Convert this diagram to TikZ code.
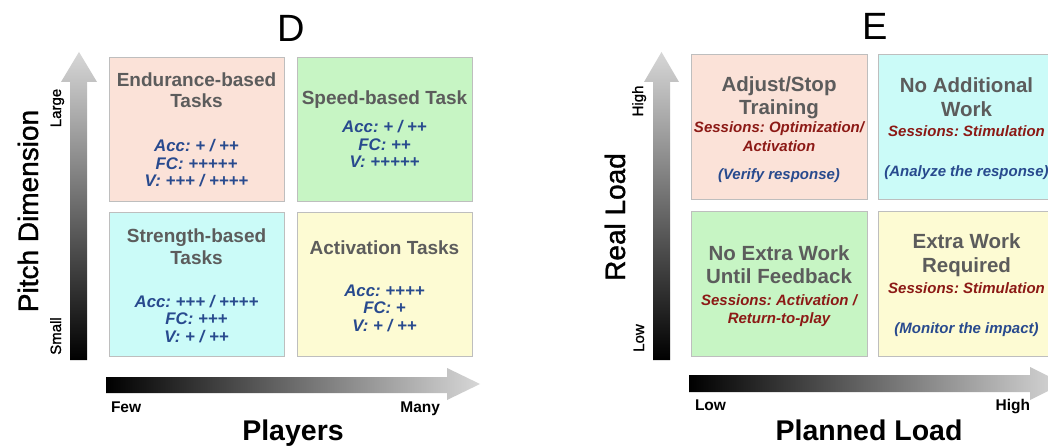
\documentclass[tikz,border=0pt]{standalone}
\usepackage{fontspec}
\setmainfont{Liberation Sans}
\newfontfamily\medfont[FakeBold=1.2]{Liberation Sans}
\frenchspacing
\definecolor{pinkbg}{RGB}{251,226,216}
\definecolor{greenbg}{RGB}{199,245,196}
\definecolor{cyanbg}{RGB}{203,251,248}
\definecolor{yellowbg}{RGB}{253,251,211}
\definecolor{boxline}{RGB}{190,190,190}
\definecolor{ttlgray}{RGB}{92,92,92}
\definecolor{metblue}{RGB}{40,74,142}
\definecolor{sesred}{RGB}{140,26,22}
\definecolor{arrowlight}{RGB}{215,215,215}
\begin{document}
\begin{tikzpicture}[x=1pt,y=-1pt,
  every node/.style={inner sep=0pt, outer sep=0pt},
  qbox/.style={draw=boxline, line width=0.8pt, minimum width=175pt, minimum height=144pt},
  ttl/.style={text=ttlgray, anchor=base, font=\fontsize{19}{22}\selectfont\bfseries},
  ttlE/.style={text=ttlgray, anchor=base, font=\fontsize{20.5}{24}\selectfont\bfseries},
  met/.style={text=metblue, anchor=base, font=\fontsize{16.8}{19}\selectfont\bfseries\itshape},
  ses/.style={text=sesred, anchor=base, font=\fontsize{15}{18}\selectfont\bfseries\itshape},
  ver/.style={text=metblue, anchor=base, font=\fontsize{15}{18}\selectfont\bfseries\itshape},
  ptitle/.style={anchor=base, font=\fontsize{38}{44}\selectfont},
  axtitle/.style={anchor=base, rotate=90, font=\medfont\fontsize{28}{32}\selectfont},
  axtitleh/.style={anchor=base, font=\fontsize{28.5}{32}\selectfont\bfseries},
  tickv/.style={anchor=base, rotate=90, font=\medfont\fontsize{15}{18}\selectfont},
  tickh/.style={font=\fontsize{15.5}{18}\selectfont\bfseries},
  axshade/.style={draw=none}
]
\useasboundingbox (0,0) rectangle (1048,446);
\clip (0,0) rectangle (1048,446);
\fill[white] (0,0) rectangle (1048,446);

% ===================== Panel D =====================
\node[ptitle] (dtitle) at (291,42) {D};

\shade[axshade, bottom color=black, top color=arrowlight]
  (70,360) -- (70,82) -- (61,82) -- (79,52) -- (97,82) -- (87,82) -- (87,360) -- cycle;
\shade[axshade, left color=black, right color=arrowlight]
  (106,377) -- (447,377) -- (447,368) -- (480,384) -- (447,400) -- (447,393) -- (106,393) -- cycle;

\node[tickv] (dlarge) at (61,108) {Large};
\node[tickv] (dsmall) at (61,336) {Small};
\node[axtitle] (dpitch) at (38,211) {Pitch Dimension};
\node[tickh, anchor=base west] (dfew) at (111,412) {Few};
\node[tickh, anchor=base east] (dmany) at (440,412) {Many};
\node[axtitleh] (dplayers) at (293,440) {Players};

\node[qbox, fill=pinkbg] (dTL) at (196.5,129) {};
\node[qbox, fill=greenbg] (dTR) at (384.5,129) {};
\node[qbox, fill=cyanbg] (dBL) at (196.5,284) {};
\node[qbox, fill=yellowbg] (dBR) at (384.5,284) {};

\node[ttl] (dA1) at (196.5,87) {Endurance-based};
\node[ttl] (dA2) at (196.5,108) {Tasks};
\node[met] (dA3) at (196.5,152) {Acc: + / ++};
\node[met] (dA4) at (196.5,169.5) {FC: +++++};
\node[met] (dA5) at (196.5,187) {V: +++ / ++++};

\node[ttl] (dB1) at (384.5,105) {Speed-based Task};
\node[met] (dB2) at (384.5,133) {Acc: + / ++};
\node[met] (dB3) at (384.5,150.5) {FC: ++};
\node[met] (dB4) at (384.5,168) {V: +++++};

\node[ttl] (dC1) at (196.5,242) {Strength-based};
\node[ttl] (dC2) at (196.5,264) {Tasks};
\node[met] (dC3) at (196.5,307) {Acc: +++ / ++++};
\node[met] (dC4) at (196.5,324.5) {FC: +++};
\node[met] (dC5) at (196.5,342) {V: + / ++};

\node[ttl] (dD1) at (384.5,254) {Activation Tasks};
\node[met] (dD2) at (384.5,296) {Acc: ++++};
\node[met] (dD3) at (384.5,313.5) {FC: +};
\node[met] (dD4) at (384.5,331) {V: + / ++};

% ===================== Panel E =====================
\node[ptitle] (etitle) at (875,40) {E};

\shade[axshade, bottom color=black, top color=arrowlight]
  (653,360) -- (653,82) -- (644,82) -- (661.5,52) -- (679,82) -- (670,82) -- (670,360) -- cycle;
\shade[axshade, left color=black, right color=arrowlight]
  (689,375) -- (1030,375) -- (1030,367) -- (1063,383.5) -- (1030,400) -- (1030,392) -- (689,392) -- cycle;

\node[tickv] (ehigh) at (643,101) {High};
\node[tickv] (elow) at (644,338) {Low};
\node[axtitle] (ereal) at (625,217) {Real Load};
\node[tickh, anchor=base west] (elowh) at (695,410) {Low};
\node[tickh, anchor=base east] (ehighh) at (1030,410) {High};
\node[axtitleh] (eplanned) at (869,440) {Planned Load};

\node[qbox, fill=pinkbg, minimum width=176pt, minimum height=145pt] (eTL) at (779,126.5) {};
\node[qbox, fill=cyanbg, minimum width=176pt, minimum height=145pt] (eTR) at (966.5,126.5) {};
\node[qbox, fill=greenbg, minimum width=176pt, minimum height=145pt] (eBL) at (779,283.5) {};
\node[qbox, fill=yellowbg, minimum width=176pt, minimum height=145pt] (eBR) at (966.5,283.5) {};

\node[ttlE] (eA1) at (779,92) {Adjust/Stop};
\node[ttlE] (eA2) at (779,115) {Training};
\node[ses] (eA3) at (779,133) {Sessions: Optimization/};
\node[ses] (eA4) at (779,151.5) {Activation};
\node[ver] (eA5) at (779,179.5) {(Verify response)};

\node[ttlE] (eB1) at (966.5,93) {No Additional};
\node[ttlE] (eB2) at (966.5,117) {Work};
\node[ses] (eB3) at (966.5,137) {Sessions: Stimulation};
\node[ver] (eB4) at (966.5,177) {(Analyze the response)};

\node[ttlE] (eC1) at (779,260) {No Extra Work};
\node[ttlE] (eC2) at (779,283) {Until Feedback};
\node[ses] (eC3) at (779,305) {Sessions: Activation /};
\node[ses] (eC4) at (779,323) {Return-to-play};

\node[ttlE] (eD1) at (966.5,248) {Extra Work};
\node[ttlE] (eD2) at (966.5,272.5) {Required};
\node[ses] (eD3) at (966.5,293.5) {Sessions: Stimulation};
\node[ver] (eD4) at (966.5,333) {(Monitor the impact)};
\end{tikzpicture}
\end{document}
